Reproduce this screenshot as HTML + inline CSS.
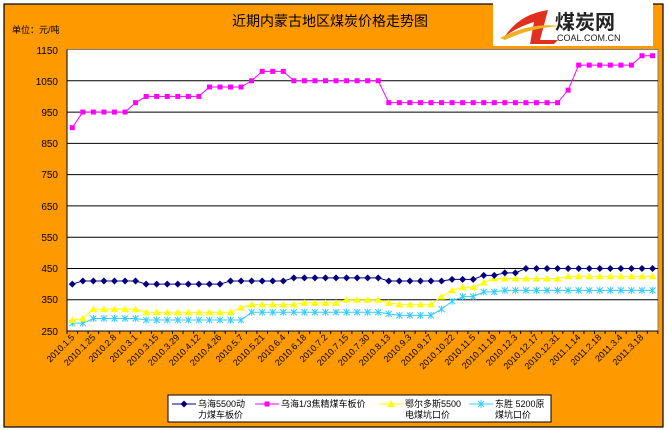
<!DOCTYPE html>
<html><head><meta charset="utf-8"><style>
html,body{margin:0;padding:0;background:#fff}
svg{display:block;font-family:"Liberation Sans","Noto Sans CJK SC",sans-serif}
</style></head><body>
<svg id="s" width="668" height="430" viewBox="0 0 668 430" xmlns="http://www.w3.org/2000/svg">
<rect x="0" y="0" width="668" height="430" fill="#fff"/>
<rect x="4" y="4" width="659" height="423" fill="#FF9900" stroke="#000" stroke-width="1.2"/>
<rect x="67" y="49.5" width="591" height="281.5" fill="#fff" stroke="#808080" stroke-width="1"/>
<g stroke="#000" stroke-width="1">
<line x1="67" x2="658" y1="80.8" y2="80.8"/><line x1="67" x2="658" y1="112.1" y2="112.1"/>
<line x1="67" x2="658" y1="143.4" y2="143.4"/><line x1="67" x2="658" y1="174.6" y2="174.6"/>
<line x1="67" x2="658" y1="205.9" y2="205.9"/><line x1="67" x2="658" y1="237.2" y2="237.2"/>
<line x1="67" x2="658" y1="268.5" y2="268.5"/><line x1="67" x2="658" y1="299.7" y2="299.7"/>
<line x1="67" x2="658" y1="331" y2="331"/><line x1="67" x2="67" y1="49.5" y2="331"/>
</g>
<g id="ticks" stroke="#000" stroke-width="1"></g>
<g font-size="10" fill="#000" text-anchor="end">
<text x="58" y="54">1150</text><text x="58" y="85">1050</text><text x="58" y="116">950</text>
<text x="58" y="147">850</text><text x="58" y="178">750</text><text x="58" y="210">650</text>
<text x="58" y="241">550</text><text x="58" y="272">450</text><text x="58" y="303">350</text>
<text x="58" y="335">250</text>
</g>
<text x="330" y="26" font-size="14" text-anchor="middle" fill="#000">近期内蒙古地区煤炭价格走势图</text>
<text x="12" y="33" font-size="9" fill="#000">单位：元/吨</text>
<rect x="493" y="3" width="160" height="43" fill="#fff"/>
<path d="M505 36 Q520 14 548 10 L540 40 L558 40 L554 44 L530 44 L534 22 Q520 26 505 36Z" fill="#e03020"/>
<path d="M500 38 Q530 22 560 26 Q530 28 505 40Z" fill="#f0b020"/>
<text x="555" y="29" font-size="20" font-weight="bold" fill="#222">煤炭网</text>
<text x="557" y="41" font-size="9" fill="#222">COAL.COM.CN</text>
<g id="series"></g>
<g font-size="9" fill="#000" text-anchor="end">
<text transform="translate(75,338) rotate(-45)">2010.1.5</text>
<text transform="translate(96,338) rotate(-45)">2010.1.25</text>
<text transform="translate(117,338) rotate(-45)">2010.2.8</text>
<text transform="translate(138,338) rotate(-45)">2010.3.1</text>
<text transform="translate(159,338) rotate(-45)">2010.3.15</text>
<text transform="translate(180,338) rotate(-45)">2010.3.29</text>
<text transform="translate(201,338) rotate(-45)">2010.4.12</text>
<text transform="translate(222,338) rotate(-45)">2010.4.26</text>
<text transform="translate(244,338) rotate(-45)">2010.5.7</text>
<text transform="translate(265,338) rotate(-45)">2010.5.21</text>
<text transform="translate(286,338) rotate(-45)">2010.6.4</text>
<text transform="translate(307,338) rotate(-45)">2010.6.18</text>
<text transform="translate(328,338) rotate(-45)">2010.7.2</text>
<text transform="translate(349,338) rotate(-45)">2010.7.15</text>
<text transform="translate(370,338) rotate(-45)">2010.7.30</text>
<text transform="translate(391,338) rotate(-45)">2010.8.13</text>
<text transform="translate(412,338) rotate(-45)">2010.9.3</text>
<text transform="translate(433,338) rotate(-45)">2010.9.17</text>
<text transform="translate(455,338) rotate(-45)">2010.10.22</text>
<text transform="translate(476,338) rotate(-45)">2010.11.5</text>
<text transform="translate(497,338) rotate(-45)">2010.11.19</text>
<text transform="translate(518,338) rotate(-45)">2010.12.3</text>
<text transform="translate(539,338) rotate(-45)">2010.12.17</text>
<text transform="translate(560,338) rotate(-45)">2010.12.31</text>
<text transform="translate(581,338) rotate(-45)">2011.1.14</text>
<text transform="translate(602,338) rotate(-45)">2011.2.18</text>
<text transform="translate(623,338) rotate(-45)">2011.3.4</text>
<text transform="translate(644,338) rotate(-45)">2011.3.18</text>
</g>
<rect x="168" y="395" width="383" height="27" fill="#fff" stroke="#000" stroke-width="1"/>
<g font-size="9" fill="#000">
<line x1="172" x2="196" y1="404" y2="404" stroke="#000080"/><path d="M184 400.5L187.5 404 184 407.5 180.5 404Z" fill="#000080"/>
<text x="198" y="407">乌海5500动</text><text x="198" y="418">力煤车板价</text>
<line x1="255" x2="279" y1="404" y2="404" stroke="#FF00FF"/><rect x="264.5" y="401.5" width="5" height="5" fill="#FF00FF"/>
<text x="281" y="407">乌海1/3焦精煤车板价</text>
<line x1="379" x2="403" y1="404" y2="404" stroke="#FFFF00"/><path d="M391 400L395 407 387 407Z" fill="#FFFF00"/>
<text x="405" y="407">鄂尔多斯5500</text><text x="405" y="418">电煤坑口价</text>
<line x1="469" x2="493" y1="404" y2="404" stroke="#33CCFF"/><path d="M478 401L484 407M484 401L478 407M481 400V408" stroke="#33CCFF"/>
<text x="495" y="407">东胜 5200原</text><text x="495" y="418">煤坑口价</text>
</g>
</svg>
<script>
(function(){
var NS="http://www.w3.org/2000/svg",g=document.getElementById("series"),tk=document.getElementById("ticks");
function X(i){return 67+10.55*(i+0.5)}function Y(v){return 331-(v-250)*0.3128}
function rep(v,n){var a=[];for(var i=0;i<n;i++)a.push(v);return a}
for(var i=0;i<=56;i++){var l=document.createElementNS(NS,"line");var x=67+10.55*i;l.setAttribute("x1",x);l.setAttribute("x2",x);l.setAttribute("y1",331);l.setAttribute("y2",334);tk.appendChild(l);}
var pink=[900].concat(rep(950,5),[980],rep(1000,6),rep(1030,4),[1050],rep(1080,3),rep(1050,9),rep(980,17),[1020],rep(1100,6),[1130,1130]);
var navy=[400].concat(rep(410,6),rep(400,8),rep(410,6),rep(420,9),rep(410,6),rep(415,3),[428,428,436,436],rep(450,13));
var yel=[285,290].concat(rep(320,5),rep(310,9),[325],rep(335,5),rep(340,4),rep(350,4),[340],rep(335,4),[360,380,390,390,405],rep(418,7),rep(425,9));
var cy=[275,275].concat(rep(290,5),rep(285,10),rep(310,13),[305],rep(300,4),[320,345,360,360,375,375],rep(380,15));
function line(d,c){var p=document.createElementNS(NS,"polyline");p.setAttribute("points",d.map(function(v,i){return X(i)+","+Y(v)}).join(" "));p.setAttribute("fill","none");p.setAttribute("stroke",c);p.setAttribute("stroke-width","1");g.appendChild(p);}
function mk(d,c,type){d.forEach(function(v,i){var x=X(i),y=Y(v),e;
 if(type=="sq"){e=document.createElementNS(NS,"rect");e.setAttribute("x",x-2.5);e.setAttribute("y",y-2.5);e.setAttribute("width",5);e.setAttribute("height",5);e.setAttribute("fill",c);}
 else if(type=="di"){e=document.createElementNS(NS,"path");e.setAttribute("d","M"+x+" "+(y-3.5)+"L"+(x+3.5)+" "+y+" "+x+" "+(y+3.5)+" "+(x-3.5)+" "+y+"Z");e.setAttribute("fill",c);}
 else if(type=="tr"){e=document.createElementNS(NS,"path");e.setAttribute("d","M"+x+" "+(y-3.5)+"L"+(x+4)+" "+(y+3)+" "+(x-4)+" "+(y+3)+"Z");e.setAttribute("fill",c);}
 else {e=document.createElementNS(NS,"path");e.setAttribute("d","M"+(x-3)+" "+(y-3)+"L"+(x+3)+" "+(y+3)+"M"+(x+3)+" "+(y-3)+"L"+(x-3)+" "+(y+3)+"M"+x+" "+(y-3.5)+"V"+(y+3.5));e.setAttribute("stroke",c);e.setAttribute("fill","none");}
 g.appendChild(e);});}
line(cy,"#33CCFF");mk(cy,"#33CCFF","x");
line(yel,"#FFFF00");mk(yel,"#FFFF00","tr");
line(navy,"#000080");mk(navy,"#000080","di");
line(pink,"#FF00FF");mk(pink,"#FF00FF","sq");
})();
</script>
</body></html>
